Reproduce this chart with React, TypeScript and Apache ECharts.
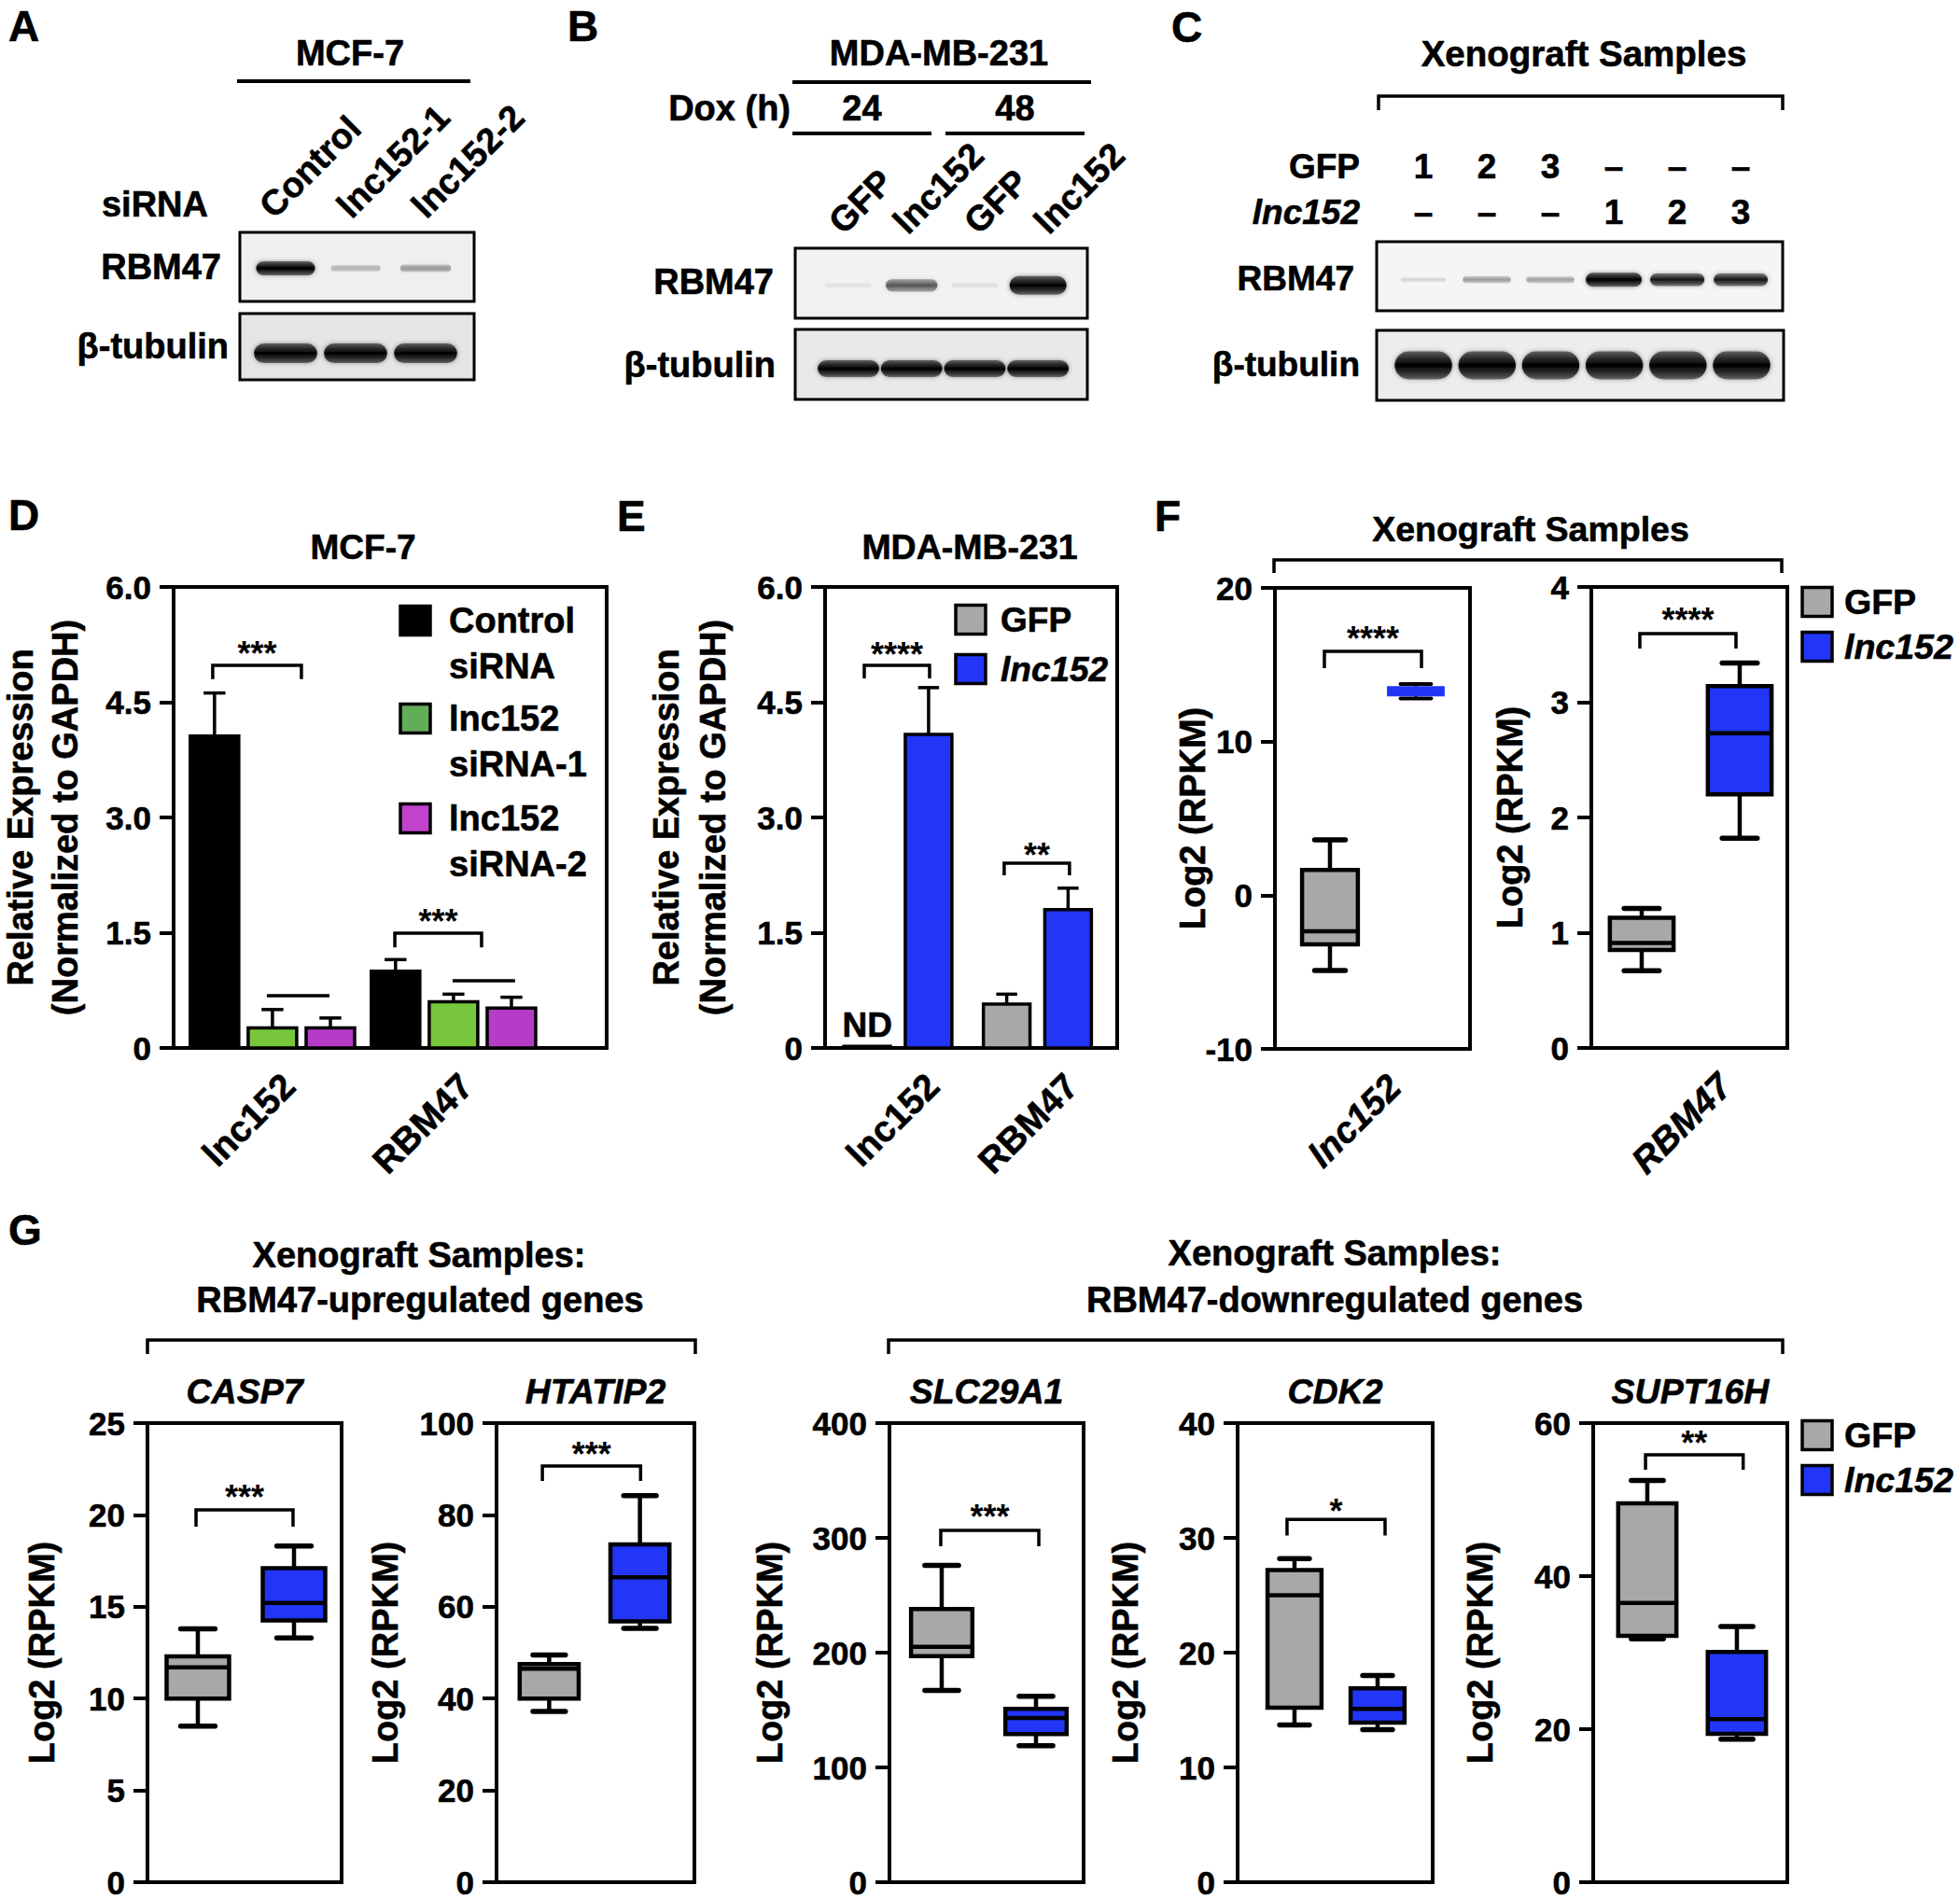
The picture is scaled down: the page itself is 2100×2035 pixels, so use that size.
import React, { useEffect, useRef } from 'react';
import * as echarts from 'echarts';

const FONT = '"Liberation Sans", Arial, Helvetica, sans-serif';
const INK = '#000000';
const GRAY = '#a8a8a8';
const BLUE = '#2136f6';
const GREEN_BAR = '#77c63c';
const GREEN_KEY = '#62ad58';
const MAGENTA_BAR = '#b53cc7';
const MAGENTA_KEY = '#c042cd';

// ================= DATA =================
// A: MCF-7 western blot (relative band strength 0-1)
const aLanes = ['Control', 'lnc152-1', 'lnc152-2'];
const aRbm47 = [1.0, 0.2, 0.3];
const aTubulin = [1, 1, 1];

// B: MDA-MB-231 western blot
const bDox = ['24', '48'];
const bLanes = ['GFP', 'lnc152', 'GFP', 'lnc152'];
const bRbm47 = [0.03, 0.55, 0.04, 1.0];
const bTubulin = [1, 1, 1, 1];

// C: xenograft western blot
const cGfpRow = ['1', '2', '3', '\u2013', '\u2013', '\u2013'];
const cLncRow = ['\u2013', '\u2013', '\u2013', '1', '2', '3'];
const cRbm47 = [0.08, 0.3, 0.28, 1.0, 0.85, 0.85];
const cTubulin = [1, 1, 1, 1, 1, 1];

// D: MCF-7 qPCR
const dCategories = ['lnc152', 'RBM47'];
const dLegend = [['Control', 'siRNA'], ['lnc152', 'siRNA-1'], ['lnc152', 'siRNA-2']];
const dControl = [4.06, 1.0];
const dControlErr = [4.62, 1.15];
const dSirna1 = [0.26, 0.6];
const dSirna1Err = [0.5, 0.7];
const dSirna2 = [0.26, 0.52];
const dSirna2Err = [0.39, 0.66];
const dBrackets = [[0.67, 1.16, 4.98, 4.8, 5.22], [1.676, 2.155, 1.494, 1.31, 1.737]];
const dBracketLabels = ['***', '***'];
const dLines = [[0.969, 1.315, 0.68, 0.68, 0.68], [1.995, 2.34, 0.875, 0.875, 0.875]];

// E: MDA-MB-231 qPCR
const eCategories = ['lnc152', 'RBM47'];
const eGfp = [0.02, 0.57];
const eGfpErr = [0.02, 0.7];
const eGfpND = [true, false];
const eLnc = [4.08, 1.8];
const eLncErr = [4.69, 2.08];
const eBrackets = [[0.759, 1.227, 4.98, 4.81, 5.21], [1.762, 2.23, 2.405, 2.247, 2.6]];
const eBracketLabels = ['****', '**'];

// F: xenograft RNA-seq
const fGenes = ['lnc152', 'RBM47'];
const fGfpBox = [[-4.9, -3.2, -2.35, 1.65, 3.6], [0.67, 0.85, 0.91, 1.13, 1.21]];
const fLncBox = [[12.8, 13.0, 13.25, 13.55, 13.75], [1.82, 2.2, 2.73, 3.14, 3.34]];
const fYMin = [-10, 0];
const fYMax = [20, 4];
const fYStep = [10, 1];
const fBrackets = [[0.935, 2.066, 15.87, 14.78, 17.15], [0.981, 1.962, 3.595, 3.465, 3.77]];
const fBracketLabels = ['****', '****'];

// G: RBM47 target genes
const gGenes = ['CASP7', 'HTATIP2', 'SLC29A1', 'CDK2', 'SUPT16H'];
const gGfpBox = [
  [8.5, 10.0, 11.7, 12.3, 13.8],
  [37.2, 40.0, 46.5, 47.5, 49.5],
  [167, 197, 205, 238, 276],
  [13.7, 15.2, 25.0, 27.2, 28.2],
  [31.8, 32.2, 36.5, 49.5, 52.5],
];
const gLncBox = [
  [13.3, 14.25, 15.2, 17.1, 18.3],
  [55.3, 56.8, 66.4, 73.6, 84.2],
  [119, 129, 143, 151, 162],
  [13.3, 13.9, 15.1, 16.9, 18.0],
  [18.7, 19.4, 21.3, 30.1, 33.4],
];
const gYMax = [25, 100, 400, 40, 60];
const gYStep = [5, 20, 100, 10, 20];
const gBrackets = [
  [0.981, 1.99, 20.27, 19.36, 21.34],
  [0.925, 2.007, 90.65, 87.4, 94.7],
  [0.99, 2.03, 306.5, 292.7, 324.4],
  [0.91, 2.09, 31.6, 30.2, 32.9],
  [0.98, 2.07, 55.85, 53.9, 58.3],
];
const gBracketLabels = ['***', '***', '***', '*', '**'];
const groupNames = ['GFP', 'lnc152'];

// ================= LAYOUT =================
const A_R = { left: 257, top: 249, width: 251, height: 74 };
const A_T = { left: 257, top: 336, width: 251, height: 71 };
const A_X = [-0.653, 2.693];
const A_LABEL_X = [298, 381, 461];
const B_R = { left: 852, top: 266, width: 313, height: 75 };
const B_T = { left: 852, top: 353, width: 313, height: 75 };
const B_X = [-0.842, 3.78];
const B_LABEL_X = [908, 977, 1053, 1128];
const C_R = { left: 1475, top: 259, width: 435, height: 74 };
const C_T = { left: 1475, top: 354, width: 436, height: 75 };
const C_X = [-0.735, 5.66];

const D_GRID = { left: 186, top: 629, width: 464, height: 494 };
const D_X = [0.454, 2.846];
const D_OFFSETS = [-0.32, 0, 0.32];
const D_LABEL_SHIFT = [0.09, 0.07];
const D_BAR_W = 0.268;
const E_GRID = { left: 884, top: 629, width: 313, height: 494 };
const E_X = [0.478, 2.572];
const E_OFFSETS = [-0.22, 0.22];
const E_LABEL_SHIFT = [0.25, 0.245];
const E_BAR_W = 0.334;
const F_GRIDS = [
  { left: 1366, top: 630, width: 209, height: 494 },
  { left: 1705, top: 629, width: 210, height: 494 },
];
const F_X = [[0.359, 2.631], [0.486, 2.486]];
const F_LABEL_AT = [1.75, 1.85];
const F_NAME_GAP = [69, 68];
const G_LEFT = [158, 532, 953, 1326, 1707];
const G_WIDTH = [208, 212, 208, 209, 208];
const G_TOP = 1525;
const G_HEIGHT = 492;
const G_X = [[0.476, 2.495], [0.42, 2.6], [0.446, 2.505], [0.315, 2.663], [0.396, 2.563]];
const G_NAME_GAP = [94, 100, 109, 101, 102];
const BOX_W = 0.65;
const STAR_SIZE = 36;
const TICK_FONT = 35;
const XLAB_FONT = 39;
const HEAVY = 0.6;

const fnt = (size: number, italic = false) => `${italic ? 'italic ' : ''}bold ${size}px ${FONT}`;

function txt(text: string, x: number, y: number, size: number, o: any = {}) {
  const align = o.align || 'center';
  const v = o.v || 'middle';
  return {
    type: 'text', x, y, rotation: o.rot || 0, silent: true,
    style: {
      text, font: fnt(size, !!o.italic), fill: INK, stroke: INK, lineWidth: HEAVY,
      textAlign: align, align, textVerticalAlign: v, verticalAlign: v,
    },
  };
}
function hline(x1: number, x2: number, y: number, w = 4) {
  return { type: 'line', silent: true, shape: { x1, y1: y, x2, y2: y }, style: { stroke: INK, lineWidth: w } };
}
function bigBracket(x1: number, x2: number, yTop: number, yBot: number) {
  return {
    type: 'polyline', silent: true,
    shape: { points: [[x1, yBot], [x1, yTop], [x2, yTop], [x2, yBot]] },
    style: { stroke: INK, lineWidth: 3.5, fill: 'none' },
  };
}
function keySquare(x: number, cy: number, color: string) {
  return {
    type: 'rect', silent: true,
    shape: { x, y: cy - 15.5, width: 32, height: 31 },
    style: { fill: color, stroke: INK, lineWidth: 3.5 },
  };
}
const laneX = (r: any, xr: number[], i: number) => r.left + ((i - xr[0]) / (xr[1] - xr[0])) * r.width;

function buildOption() {
  const grid: any[] = [];
  const xAxis: any[] = [];
  const yAxis: any[] = [];
  const series: any[] = [];
  const graphic: any[] = [];
  const axisFont = { color: INK, fontSize: TICK_FONT, fontWeight: 'bold', fontFamily: FONT, textBorderColor: INK, textBorderWidth: HEAVY };

  const addPlot = (rect: any, xr: number[], xLabels: any, y: any, name: string, nameGap: number, lineHeight: number) => {
    const gi = grid.length;
    grid.push({ ...rect, show: true, borderColor: INK, borderWidth: 4, backgroundColor: 'transparent', containLabel: false, outerBoundsMode: 'none' });
    xAxis.push({
      gridIndex: gi, type: 'value', min: xr[0], max: xr[1],
      axisLine: { show: false }, axisTick: { show: false }, splitLine: { show: false },
      axisLabel: xLabels
        ? { ...axisFont, fontSize: XLAB_FONT, customValues: xLabels.values, formatter: (v: number) => xLabels.text(v), rotate: 45, margin: 34, fontStyle: xLabels.italic ? 'italic' : 'normal' }
        : { show: false },
    });
    yAxis.push({
      gridIndex: gi, type: 'value', min: y.min, max: y.max, interval: y.step,
      axisLine: { show: true, lineStyle: { color: INK, width: 4 } },
      axisTick: { show: true, length: 15, lineStyle: { color: INK, width: 4 } },
      splitLine: { show: false },
      axisLabel: { ...axisFont, margin: 24, formatter: y.fmt },
      name, nameLocation: 'middle', nameGap, nameRotate: 90, nameMoveOverlap: false,
      nameTextStyle: { color: INK, fontSize: 38, fontWeight: 'bold', fontFamily: FONT, lineHeight, textBorderColor: INK, textBorderWidth: HEAVY },
    });
    return gi;
  };

  const barSeries = (gi: number, name: string, xs: number[], vals: number[], errs: number[], color: string, bw: number, nd?: boolean[]) => ({
    type: 'custom', name, xAxisIndex: gi, yAxisIndex: gi, coordinateSystem: 'cartesian2d', silent: true, clip: false,
    data: xs.map((x, i) => [x, vals[i], errs[i]]),
    renderItem: (params: any, api: any) => {
      const x = api.value(0), v = api.value(1), e = api.value(2);
      const base = api.coord([x, 0]);
      const top = api.coord([x, v]);
      const et = api.coord([x, e]);
      const w = bw * api.size([1, 0])[0];
      const cw = w * 0.45;
      const children: any[] = [];
      if (e > v) {
        children.push({ type: 'line', shape: { x1: top[0], y1: top[1], x2: et[0], y2: et[1] }, style: { stroke: INK, lineWidth: 3.5 } });
        children.push({ type: 'line', shape: { x1: et[0] - cw / 2, y1: et[1], x2: et[0] + cw / 2, y2: et[1] }, style: { stroke: INK, lineWidth: 3.5 } });
      }
      children.push({
        type: 'rect',
        shape: { x: base[0] - w / 2, y: top[1], width: w, height: Math.max(base[1] - top[1], 1) },
        style: { fill: color, stroke: INK, lineWidth: 3.5 },
      });
      if (nd && nd[params.dataIndex]) {
        children.push({
          type: 'text',
          style: { text: 'ND', x: top[0], y: top[1] - 4, font: fnt(37), fill: INK, stroke: INK, lineWidth: HEAVY, textAlign: 'center', align: 'center', textVerticalAlign: 'bottom', verticalAlign: 'bottom' },
        });
      }
      return { type: 'group', children };
    },
  });

  const boxSeries = (gi: number, name: string, x: number, box: number[], color: string) => ({
    type: 'custom', name, xAxisIndex: gi, yAxisIndex: gi, coordinateSystem: 'cartesian2d', silent: true, clip: false,
    data: [[x, ...box]],
    renderItem: (params: any, api: any) => {
      const xv = api.value(0);
      const c = (i: number) => api.coord([xv, api.value(i)]);
      const pMin = c(1), pQ1 = c(2), pMd = c(3), pQ3 = c(4), pMax = c(5);
      const cx = pMin[0];
      const w = BOX_W * api.size([1, 0])[0];
      const cw = w * 0.55;
      const small = pMin[1] - pMax[1] < 30;
      const lw = small ? 3 : 4.5;
      const st = { stroke: INK, lineWidth: lw };
      return {
        type: 'group',
        children: [
          { type: 'line', shape: { x1: cx, y1: pMax[1], x2: cx, y2: pQ3[1] }, style: st },
          { type: 'line', shape: { x1: cx, y1: pQ1[1], x2: cx, y2: pMin[1] }, style: st },
          { type: 'line', shape: { x1: cx - cw / 2, y1: pMax[1], x2: cx + cw / 2, y2: pMax[1] }, style: { stroke: INK, lineWidth: small ? 4 : 5.5, lineCap: 'round' } },
          { type: 'line', shape: { x1: cx - cw / 2, y1: pMin[1], x2: cx + cw / 2, y2: pMin[1] }, style: { stroke: INK, lineWidth: small ? 4 : 5.5, lineCap: 'round' } },
          { type: 'rect', shape: { x: cx - w / 2, y: pQ3[1], width: w, height: Math.max(pQ1[1] - pQ3[1], 2) }, style: { fill: color, stroke: small ? color : INK, lineWidth: small ? 2 : 4.5 } },
          { type: 'line', shape: { x1: cx - w / 2, y1: pMd[1], x2: cx + w / 2, y2: pMd[1] }, style: small ? { stroke: color, lineWidth: 3 } : st },
        ],
      };
    },
  });

  const bracketSeries = (gi: number, items: number[][], labels: string[]) => ({
    type: 'custom', xAxisIndex: gi, yAxisIndex: gi, coordinateSystem: 'cartesian2d', silent: true, clip: false,
    data: items,
    renderItem: (params: any, api: any) => {
      const x1 = api.value(0), x2 = api.value(1), yt = api.value(2), yl = api.value(3), ytx = api.value(4);
      const a = api.coord([x1, yl]), b = api.coord([x1, yt]), c = api.coord([x2, yt]), d = api.coord([x2, yl]);
      const children: any[] = [
        { type: 'polyline', shape: { points: [a, b, c, d] }, style: { stroke: INK, lineWidth: 3.5, fill: 'none' } },
      ];
      const lab = labels[params.dataIndex];
      if (lab) {
        const p = api.coord([(x1 + x2) / 2, ytx]);
        children.push({
          type: 'text',
          style: { text: lab, x: p[0], y: p[1] + STAR_SIZE * 0.21, font: fnt(STAR_SIZE), fill: INK, textAlign: 'center', align: 'center', textVerticalAlign: 'middle', verticalAlign: 'middle' },
        });
      }
      return { type: 'group', children };
    },
  });

  const addBlot = (rect: any, xr: number[], bg: string, vals: number[], cfg: any) => {
    const gi = grid.length;
    grid.push({ ...rect, show: true, borderColor: INK, borderWidth: 3, backgroundColor: bg, containLabel: false, outerBoundsMode: 'none' });
    xAxis.push({ gridIndex: gi, type: 'value', min: xr[0], max: xr[1], show: false });
    yAxis.push({ gridIndex: gi, type: 'value', min: 0, max: 1, show: false });
    series.push({
      type: 'custom', xAxisIndex: gi, yAxisIndex: gi, coordinateSystem: 'cartesian2d', silent: true, clip: true,
      data: vals.map((v, i) => [i, v]),
      renderItem: (params: any, api: any) => {
        const i = api.value(0), v = api.value(1);
        const c = api.coord([i, cfg.bandY]);
        const unit = api.size([1, 0])[0];
        const w = unit * cfg.wFrac * (0.8 + 0.2 * v);
        const h = cfg.tMin + (cfg.tMax - cfg.tMin) * v;
        const a = 0.04 + 0.96 * v;
        return {
          type: 'rect',
          shape: { x: c[0] - w / 2, y: c[1] - h / 2, width: w, height: h, r: h / 2 },
          style: {
            fill: {
              type: 'linear', x: 0, y: 0, x2: 0, y2: 1,
              colorStops: [
                { offset: 0, color: `rgba(40,40,40,${(a * 0.6).toFixed(3)})` },
                { offset: 0.5, color: `rgba(0,0,0,${a.toFixed(3)})` },
                { offset: 1, color: `rgba(40,40,40,${(a * 0.6).toFixed(3)})` },
              ],
            },
            shadowBlur: 5, shadowColor: `rgba(0,0,0,${(a * 0.55).toFixed(3)})`,
          },
        };
      },
    });
  };

  // ---------- Blots ----------
  addBlot(A_R, A_X, '#efefef', aRbm47, { bandY: 0.48, tMin: 5, tMax: 15, wFrac: 0.84 });
  addBlot(A_T, A_X, '#e5e5e5', aTubulin, { bandY: 0.4, tMin: 21, tMax: 21, wFrac: 0.9 });
  addBlot(B_R, B_X, '#f2f2f2', bRbm47, { bandY: 0.47, tMin: 5, tMax: 20, wFrac: 0.9 });
  addBlot(B_T, B_X, '#e9e9e9', bTubulin, { bandY: 0.44, tMin: 18, tMax: 18, wFrac: 0.97 });
  addBlot(C_R, C_X, '#f5f5f5', cRbm47, { bandY: 0.45, tMin: 4, tMax: 15, wFrac: 0.88 });
  addBlot(C_T, C_X, '#ededed', cTubulin, { bandY: 0.5, tMin: 30, tMax: 30, wFrac: 0.9 });

  // ---------- D ----------
  const yFmt15 = (v: number) => (v === 0 ? '0' : v.toFixed(1));
  const dX = dCategories.map((_, i) => i + 1);
  const dGi = addPlot(D_GRID, D_X,
    { values: dX.map((x, i) => x + D_LABEL_SHIFT[i]), text: (v: number) => dCategories[Math.round(v) - 1] },
    { min: 0, max: 6, step: 1.5, fmt: yFmt15 },
    'Relative Expression\n(Normalized to GAPDH)', 92, 48);
  series.push(barSeries(dGi, 'Control siRNA', dX.map((x) => x + D_OFFSETS[0]), dControl, dControlErr, INK, D_BAR_W));
  series.push(barSeries(dGi, 'lnc152 siRNA-1', dX.map((x) => x + D_OFFSETS[1]), dSirna1, dSirna1Err, GREEN_BAR, D_BAR_W));
  series.push(barSeries(dGi, 'lnc152 siRNA-2', dX.map((x) => x + D_OFFSETS[2]), dSirna2, dSirna2Err, MAGENTA_BAR, D_BAR_W));
  series.push(bracketSeries(dGi, dBrackets, dBracketLabels));
  series.push(bracketSeries(dGi, dLines, ['', '']));

  // ---------- E ----------
  const eX = eCategories.map((_, i) => i + 1);
  const eGi = addPlot(E_GRID, E_X,
    { values: eX.map((x, i) => x + E_LABEL_SHIFT[i]), text: (v: number) => eCategories[Math.round(v - 0.2) - 1] },
    { min: 0, max: 6, step: 1.5, fmt: yFmt15 },
    'Relative Expression\n(Normalized to GAPDH)', 95, 50);
  series.push(barSeries(eGi, 'GFP', eX.map((x) => x + E_OFFSETS[0]), eGfp, eGfpErr, GRAY, E_BAR_W, eGfpND));
  series.push(barSeries(eGi, 'lnc152', eX.map((x) => x + E_OFFSETS[1]), eLnc, eLncErr, BLUE, E_BAR_W));
  series.push(bracketSeries(eGi, eBrackets, eBracketLabels));

  // ---------- F ----------
  fGenes.forEach((gene, k) => {
    const gi = addPlot(F_GRIDS[k], F_X[k],
      { values: [F_LABEL_AT[k]], text: () => gene, italic: true },
      { min: fYMin[k], max: fYMax[k], step: fYStep[k] },
      'Log2 (RPKM)', F_NAME_GAP[k], 38);
    series.push(boxSeries(gi, 'GFP', 1, fGfpBox[k], GRAY));
    series.push(boxSeries(gi, 'lnc152', 2, fLncBox[k], BLUE));
    series.push(bracketSeries(gi, [fBrackets[k]], [fBracketLabels[k]]));
  });

  // ---------- G ----------
  gGenes.forEach((gene, k) => {
    const gi = addPlot({ left: G_LEFT[k], top: G_TOP, width: G_WIDTH[k], height: G_HEIGHT }, G_X[k], null,
      { min: 0, max: gYMax[k], step: gYStep[k] }, 'Log2 (RPKM)', G_NAME_GAP[k], 38);
    series.push(boxSeries(gi, 'GFP', 1, gGfpBox[k], GRAY));
    series.push(boxSeries(gi, 'lnc152', 2, gLncBox[k], BLUE));
    series.push(bracketSeries(gi, [gBrackets[k]], [gBracketLabels[k]]));
    graphic.push(txt(gene, G_LEFT[k] + G_WIDTH[k] / 2, 1491, 37.5, { italic: true }));
  });

  // ---------- Panel letters ----------
  graphic.push(txt('A', 9, 28, 46, { align: 'left' }));
  graphic.push(txt('B', 608, 28, 46, { align: 'left' }));
  graphic.push(txt('C', 1255, 29, 46, { align: 'left' }));
  graphic.push(txt('D', 9, 552, 46, { align: 'left' }));
  graphic.push(txt('E', 661, 553, 46, { align: 'left' }));
  graphic.push(txt('F', 1237, 553, 46, { align: 'left' }));
  graphic.push(txt('G', 9, 1318, 46, { align: 'left' }));

  // ---------- A annotations ----------
  graphic.push(txt('MCF-7', 375, 57, 38));
  graphic.push(hline(254, 504, 87));
  graphic.push(txt('siRNA', 223, 219, 38, { align: 'right' }));
  aLanes.forEach((t, i) => graphic.push(txt(t, A_LABEL_X[i], 240, 38, { align: 'left', v: 'bottom', rot: Math.PI / 4 })));
  graphic.push(txt('RBM47', 237, 286, 38, { align: 'right' }));
  graphic.push(txt('\u03b2-tubulin', 245, 371, 38, { align: 'right' }));

  // ---------- B annotations ----------
  graphic.push(txt('MDA-MB-231', 1006, 57, 38));
  graphic.push(hline(849, 1169, 88));
  graphic.push(txt('Dox (h)', 847, 116, 38, { align: 'right' }));
  graphic.push(txt(bDox[0], (849 + 998) / 2, 116, 38));
  graphic.push(txt(bDox[1], (1013 + 1162) / 2, 116, 38));
  graphic.push(hline(849, 998, 143));
  graphic.push(hline(1013, 1162, 143));
  bLanes.forEach((t, i) => graphic.push(txt(t, B_LABEL_X[i], 257, 38, { align: 'left', v: 'bottom', rot: Math.PI / 4 })));
  graphic.push(txt('RBM47', 829, 302, 38, { align: 'right' }));
  graphic.push(txt('\u03b2-tubulin', 831, 391, 38, { align: 'right' }));

  // ---------- C annotations ----------
  graphic.push(txt('Xenograft Samples', 1697, 57, 38.5));
  graphic.push(bigBracket(1477, 1910, 103, 118));
  graphic.push(txt('GFP', 1457, 178, 37, { align: 'right' }));
  graphic.push(txt('lnc152', 1457, 227, 37, { align: 'right', italic: true }));
  cGfpRow.forEach((t, i) => graphic.push(txt(t, laneX(C_R, C_X, i), 178, 37)));
  cLncRow.forEach((t, i) => graphic.push(txt(t, laneX(C_R, C_X, i), 227, 37)));
  graphic.push(txt('RBM47', 1451, 298, 37, { align: 'right' }));
  graphic.push(txt('\u03b2-tubulin', 1457, 390, 37, { align: 'right' }));

  // ---------- D/E/F titles & legends ----------
  graphic.push(txt('MCF-7', 389, 586, 37));
  const dKeyColors = [INK, GREEN_KEY, MAGENTA_KEY];
  const dKeyY = [665, 770, 877];
  dLegend.forEach((lines, i) => {
    graphic.push(keySquare(429, dKeyY[i], dKeyColors[i]));
    lines.forEach((ln, k) => graphic.push(txt(ln, 481, dKeyY[i] + k * 49, 38, { align: 'left' })));
  });

  graphic.push(txt('MDA-MB-231', 1039, 586, 37.5));
  const eKeyColors = [GRAY, BLUE];
  const eKeyY = [664, 717];
  groupNames.forEach((n, i) => {
    graphic.push(keySquare(1024, eKeyY[i], eKeyColors[i]));
    graphic.push(txt(n, 1072, eKeyY[i], 37, { align: 'left', italic: i === 1 }));
  });

  graphic.push(txt('Xenograft Samples', 1640, 567, 37.5));
  graphic.push(bigBracket(1365, 1909, 600, 614));
  const fKeyY = [645, 693];
  groupNames.forEach((n, i) => {
    graphic.push(keySquare(1931, fKeyY[i], eKeyColors[i]));
    graphic.push(txt(n, 1976, fKeyY[i], 37.5, { align: 'left', italic: i === 1 }));
  });

  // ---------- G headers & legend ----------
  graphic.push(txt('Xenograft Samples:', 449, 1345, 38));
  graphic.push(txt('RBM47-upregulated genes', 450, 1393, 38));
  graphic.push(bigBracket(158, 745, 1436, 1451));
  graphic.push(txt('Xenograft Samples:', 1430, 1343, 38));
  graphic.push(txt('RBM47-downregulated genes', 1430, 1393, 38));
  graphic.push(bigBracket(952, 1910, 1436, 1451));
  const gKeyY = [1538, 1586];
  groupNames.forEach((n, i) => {
    graphic.push(keySquare(1931, gKeyY[i], eKeyColors[i]));
    graphic.push(txt(n, 1976, gKeyY[i], 37.5, { align: 'left', italic: i === 1 }));
  });

  return {
    animation: false,
    backgroundColor: '#ffffff',
    textStyle: { fontFamily: FONT, color: INK },
    grid, xAxis, yAxis, series, graphic,
  };
}

export default function App() {
  const ref = useRef<HTMLDivElement>(null);
  useEffect(() => {
    if (!ref.current) return;
    const chart = echarts.init(ref.current, null, { renderer: 'svg', width: 2100, height: 2035 });
    chart.setOption(buildOption() as any);
    return () => chart.dispose();
  }, []);
  return (
    <div
      ref={ref}
      style={{ position: 'absolute', left: 0, top: 0, width: 2100, height: 2035, background: '#ffffff' }}
    />
  );
}
